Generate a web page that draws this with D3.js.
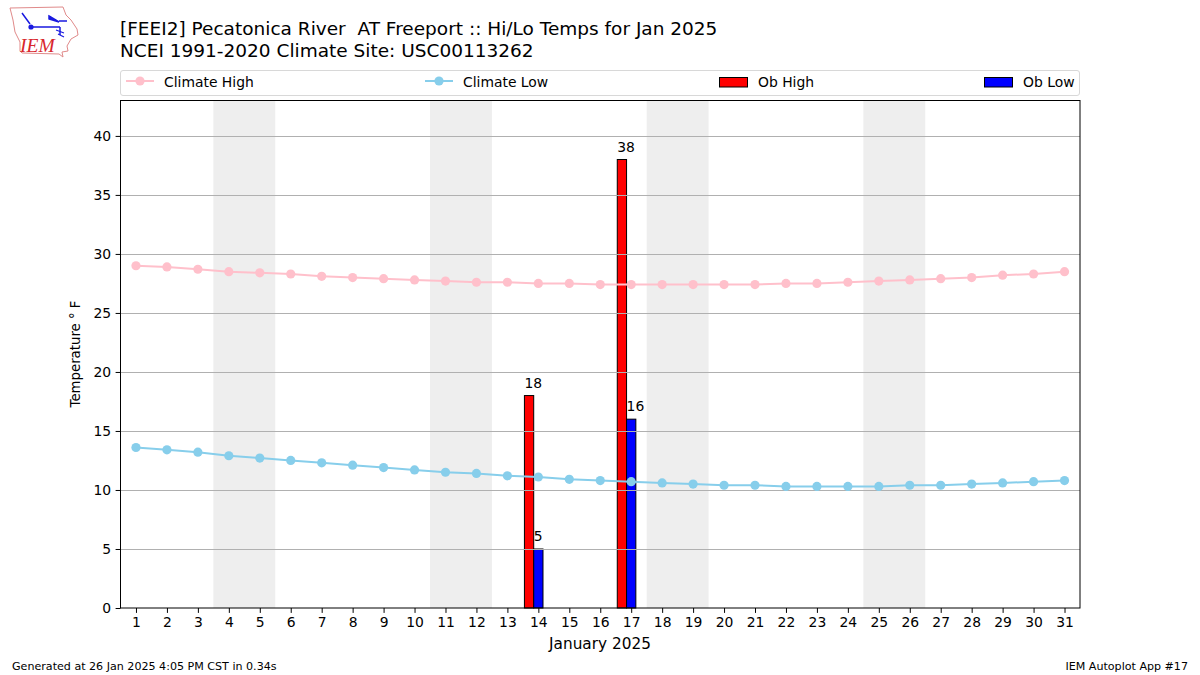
<!DOCTYPE html>
<html><head><meta charset="utf-8">
<style>html,body{margin:0;padding:0;background:#fff}svg{display:block}text{font-family:"DejaVu Sans",sans-serif;fill:#000}</style>
<script src="https://cdn.jsdelivr.net/npm/d3@7"></script></head>
<body><svg id="c" width="1200" height="675"></svg>
<script>
const days = d3.range(1, 32);
const climateHigh = [29,28.9,28.7,28.5,28.4,28.3,28.1,28,27.9,27.8,27.7,27.6,27.6,27.5,27.5,27.4,27.4,27.4,27.4,27.4,27.4,27.5,27.5,27.6,27.7,27.8,27.9,28,28.2,28.3,28.5];
const climateLow = [13.6,13.4,13.2,12.9,12.7,12.5,12.3,12.1,11.9,11.7,11.5,11.4,11.2,11.1,10.9,10.8,10.7,10.6,10.5,10.4,10.4,10.3,10.3,10.3,10.3,10.4,10.4,10.5,10.6,10.7,10.8];
const obDays = [14, 17];
const obHigh = [18, 38];
const obLow = [5, 16];
const weekends = [4, 5, 11, 12, 18, 19, 25, 26];
const yTicks = [0,5,10,15,20,25,30,35,40];
const titleLines = ["[FEEI2] Pecatonica River  AT Freeport :: Hi/Lo Temps for Jan 2025","NCEI 1991-2020 Climate Site: USC00113262"];
const legendLabels = ["Climate High","Climate Low","Ob High","Ob Low"];

const L=120.5,R=1080,T=100.5,B=608;
const svg=d3.select("#c");
const x=d3.scaleLinear().domain([0.5,31.5]).range([L,R]);
const y=d3.scaleLinear().domain([0,43]).range([B,T]);
const bw=0.3, pink="#ffc0cb", sky="#87ceeb";

// logo (decorative)
const logo=svg.append("g");
logo.append("path").attr("d","M10 8 L63 7 L66 15 L71 20 L77 29 L78 35 L71 39 L67 46 L68 51 L62 52 L63 57 L59 54 L22 53 L20 51 L20 42 L15 32 L13 20 Z").attr("fill","#fff").attr("stroke","#e08a8a").attr("stroke-width",1);
logo.append("path").attr("d","M31 27 L60 27 M49 16 L59 22 L49 19 Z M59 21 L67 21 M60 27 L60 35 M22 13 L30 24").attr("stroke","#1a1ae0").attr("stroke-width",1.5).attr("fill","#1a1ae0");
logo.append("circle").attr("cx",31).attr("cy",27).attr("r",2.6).attr("fill","#1a1ae0");
logo.append("path").attr("d","M56 30 L64 33 M58 34 L64 37").attr("stroke","#1a1ae0").attr("stroke-width",1.2);
logo.append("text").attr("x",20).attr("y",52).attr("font-family","'Liberation Serif',serif").attr("font-style","italic").attr("font-size",19.5).style("font-family","'Liberation Serif',serif").style("fill","#d8262c").text("IEM");

// titles
svg.selectAll("text.title").data(titleLines).join("text").attr("class","title").attr("x",120).attr("y",(d,i)=>35+i*22).attr("font-size",18.5).attr("xml:space","preserve").style("white-space","pre").text(d=>d);

// weekend bands
const plot=svg.append("g");
plot.selectAll("rect.wk").data(weekends.filter((d,i)=>i%2===0)).join("rect").attr("class","wk")
 .attr("x",d=>x(d-0.5)).attr("width",d=>x(d+1.5)-x(d-0.5)).attr("y",T).attr("height",B-T).attr("fill","#eeeeee");

// bars
const barG=plot.append("g");
function bars(vals,off,col){barG.selectAll("rect.b"+col.slice(1)).data(vals).join("rect").attr("class","b"+col.slice(1))
 .attr("x",(d,i)=>x(obDays[i]+off)).attr("width",x(bw)-x(0)).attr("y",d=>y(d)).attr("height",d=>B-y(d))
 .attr("fill",col).attr("stroke","#000").attr("stroke-width",1);}
bars(obHigh,-0.45,"#ff0000");
bars(obLow,-0.15,"#0000ff");

// grid
plot.selectAll("line.g").data(yTicks.slice(1)).join("line").attr("class","g").attr("x1",L).attr("x2",R)
 .attr("y1",d=>Math.round(y(d))+.5).attr("y2",d=>Math.round(y(d))+.5).attr("stroke","#b0b0b0").attr("stroke-width",1);

// climate lines
function series(vals,col){
 plot.append("path").datum(vals).attr("fill","none").attr("stroke",col).attr("stroke-width",2)
  .attr("d",d3.line().x((d,i)=>x(days[i])).y(d=>y(d)));
 plot.append("g").selectAll("circle").data(vals).join("circle").attr("cx",(d,i)=>x(days[i])).attr("cy",d=>y(d)).attr("r",4.6).attr("fill",col);
}
series(climateHigh,pink);
series(climateLow,sky);

// bar labels
function labels(vals,off){svg.append("g").selectAll("text").data(vals).join("text")
 .attr("x",(d,i)=>x(obDays[i]+off)).attr("y",d=>y(d)-8).attr("font-size",13.9).text(d=>d);}
labels(obHigh,-0.45);
labels(obLow,-0.15);

// axes
const ax=svg.append("g").attr("transform",`translate(0,${B})`).call(d3.axisBottom(x).tickValues(days).tickFormat(d3.format("d")).tickSize(4.9).tickPadding(4.5));
const ay=svg.append("g").attr("transform",`translate(${L},0)`).call(d3.axisLeft(y).tickValues(yTicks).tickSize(4.9).tickPadding(4.5));
[ax,ay].forEach(a=>{a.select(".domain").remove();a.selectAll("text").attr("font-size",13.9).style("font-family","'DejaVu Sans',sans-serif");a.selectAll("line").attr("stroke","#000").attr("stroke-width",1);});
svg.append("rect").attr("x",L).attr("y",T).attr("width",R-L).attr("height",B-T).attr("fill","none").attr("stroke","#000").attr("stroke-width",1);

svg.append("text").attr("x",600).attr("y",649).attr("text-anchor","middle").attr("font-size",15.3).text("January 2025");
svg.append("text").attr("transform","translate(80,354) rotate(-90)").attr("text-anchor","middle").attr("font-size",13.3).text("Temperature ° F");

// legend
svg.append("rect").attr("x",120.5).attr("y",70.5).attr("width",959).attr("height",25).attr("rx",2.5).attr("fill","#fff").attr("stroke","#d8d8d8").attr("stroke-width",1);
const legX=[126,425,719,984], legTx=[164,463,758,1023];
legendLabels.forEach((t,i)=>{
 const g=svg.append("g");
 if(i<2){const c=i?sky:pink;
  g.append("line").attr("x1",legX[i]).attr("x2",legX[i]+28).attr("y1",81).attr("y2",81).attr("stroke",c).attr("stroke-width",2);
  g.append("circle").attr("cx",legX[i]+14).attr("cy",81).attr("r",4.6).attr("fill",c);
 } else {
  g.append("rect").attr("x",legX[i]+.5).attr("y",77.5).attr("width",28).attr("height",9.5).attr("fill",i===2?"#ff0000":"#0000ff").attr("stroke","#000").attr("stroke-width",1);
 }
 g.append("text").attr("x",legTx[i]).attr("y",86.5).attr("font-size",13.9).text(t);
});

// footers
svg.append("text").attr("x",12).attr("y",670).attr("font-size",11.1).text("Generated at 26 Jan 2025 4:05 PM CST in 0.34s");
svg.append("text").attr("x",1188).attr("y",670).attr("text-anchor","end").attr("font-size",11.1).text("IEM Autoplot App #17");
</script></body></html>
